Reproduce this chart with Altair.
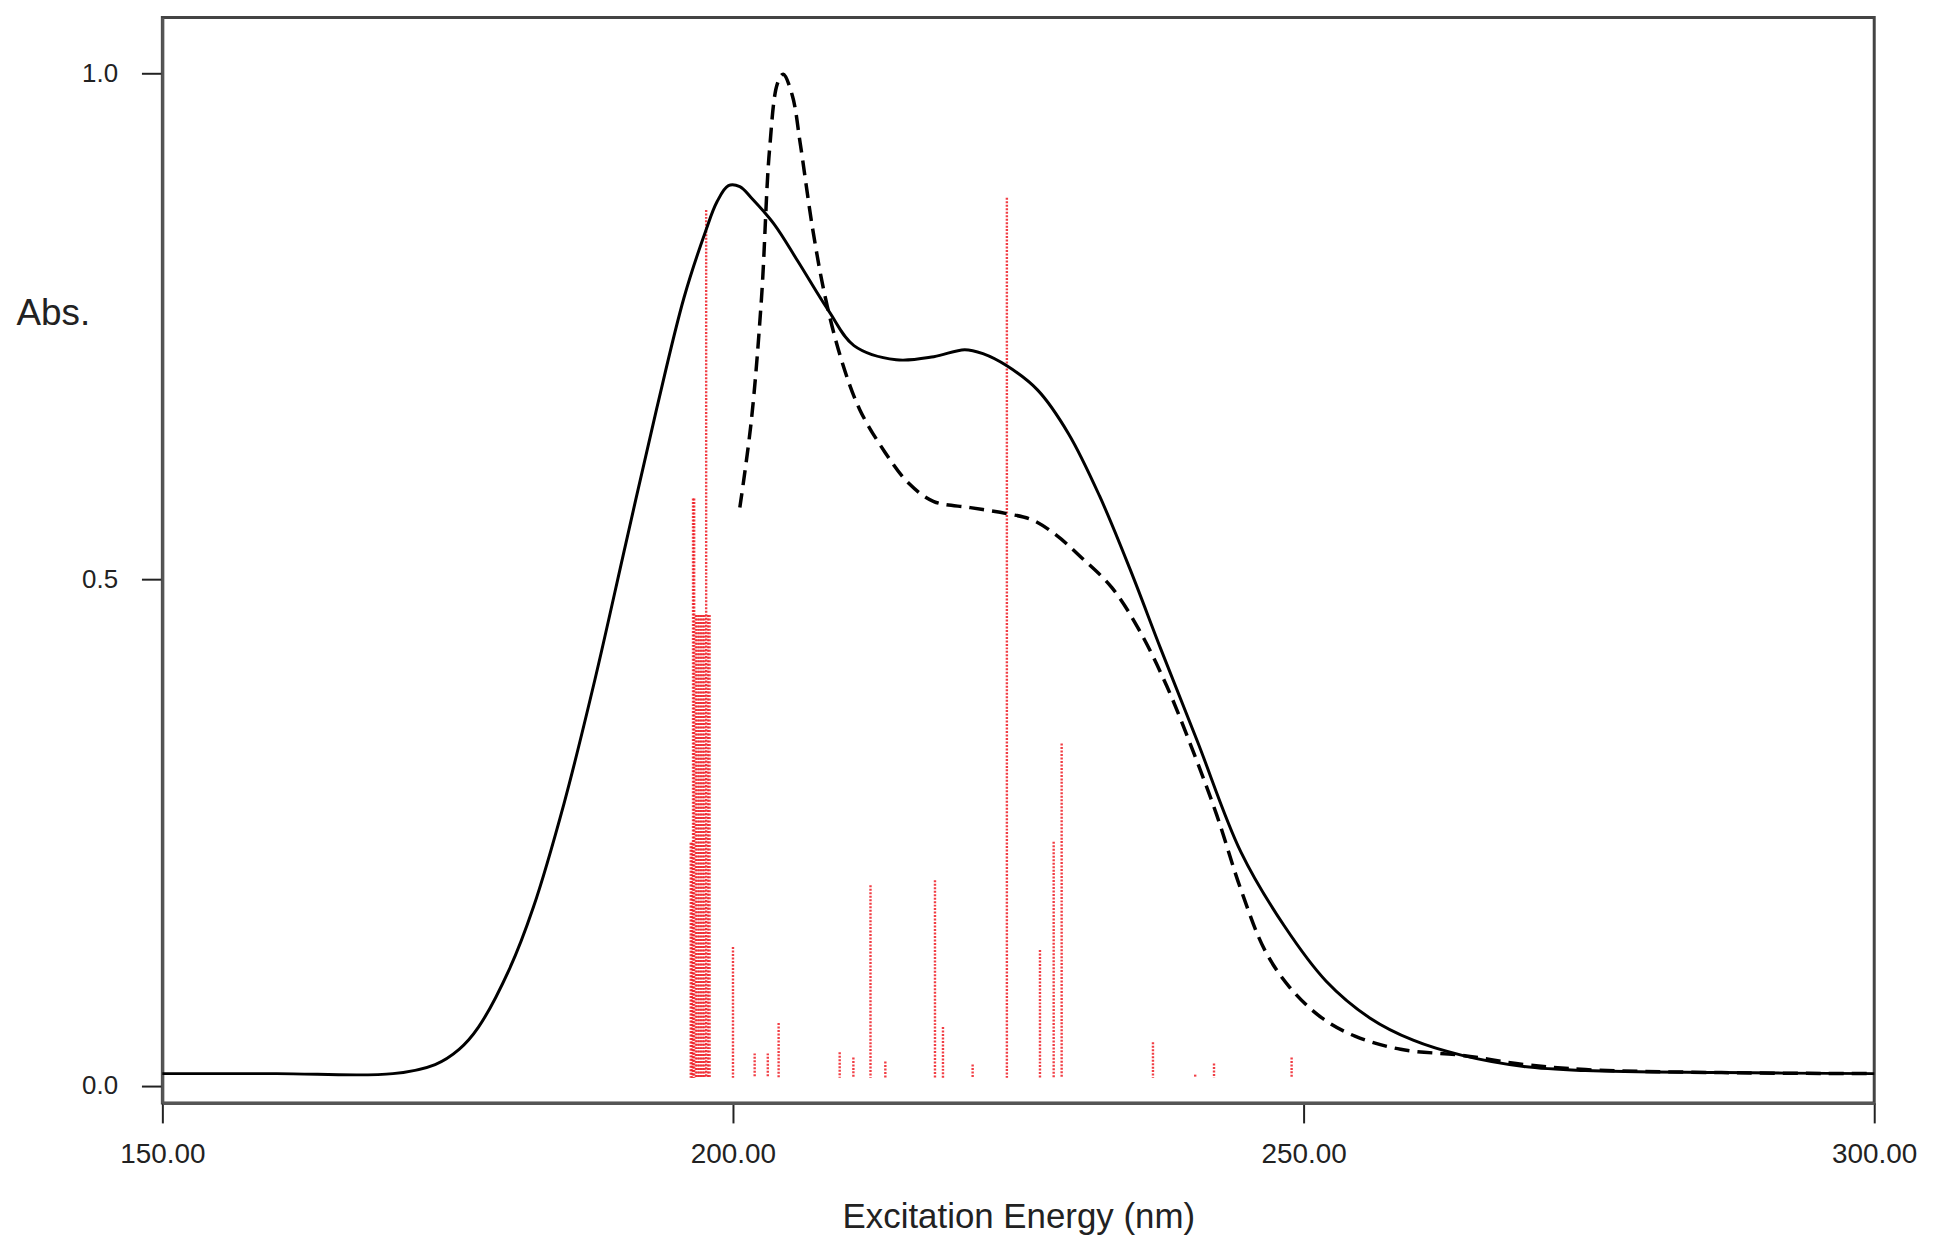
import altair as alt
import pandas as pd

# Solid spectrum
solid_x = [150, 160, 170.2, 173.9, 176.0, 177.7, 180.4, 182.5, 185.2, 187.9, 190.6, 193.3, 195.7,
           197.6, 198.6, 199.6, 200.6, 201.6, 203.6, 205.7, 208.4, 210.6, 214.3, 217.6, 220.3, 221.9,
           224.0, 226.7, 229.4, 232.1, 234.8, 237.5, 240.7, 244.5, 248.3, 252.0, 255.8, 259.6,
           263.9, 269.3, 274.7, 286.6, 300]
solid_y = [0.012, 0.012, 0.012, 0.021, 0.036, 0.058, 0.115, 0.176, 0.279, 0.401, 0.535, 0.668, 0.778,
           0.844, 0.873, 0.889, 0.888, 0.877, 0.851, 0.814, 0.765, 0.731, 0.717, 0.720, 0.727, 0.723,
           0.711, 0.687, 0.644, 0.583, 0.510, 0.431, 0.340, 0.231, 0.158, 0.103, 0.067, 0.045,
           0.030, 0.019, 0.015, 0.013, 0.012]

# Dashed spectrum
dashed_x = [200.6, 201.6, 202.5, 203.2, 203.9, 204.4, 205.2, 205.9, 207.0, 208.1, 209.5, 211.1,
            213.3, 215.4, 217.6, 220.8, 224.0, 226.2, 228.3, 230.5, 233.2, 235.6, 238.0, 240.4,
            242.4, 244.5, 246.6, 248.8, 251.6, 254.5, 258.5, 263.9, 269.3, 274.7, 286.6, 300]
dashed_y = [0.571, 0.656, 0.778, 0.924, 0.990, 0.999, 0.978, 0.930, 0.845, 0.778, 0.717, 0.668,
            0.626, 0.595, 0.577, 0.571, 0.565, 0.559, 0.544, 0.522, 0.492, 0.450, 0.395, 0.328,
            0.267, 0.194, 0.134, 0.097, 0.067, 0.049, 0.036, 0.030, 0.021, 0.016, 0.013, 0.012]

# Oscillator-strength sticks
stick_x = [196.3, 196.4, 196.5, 196.6, 196.75, 196.9, 197.05, 197.2, 197.35, 197.5, 197.65,
           197.8, 197.95, 200.0, 201.9, 203.05, 204.0, 205.85, 209.35, 210.55, 212.05, 213.35,
           217.7, 218.4, 221.0, 224.0, 226.9, 228.1, 228.8, 236.8, 240.5, 242.15, 248.95]
stick_y = [0.24, 0.24, 0.58, 0.58, 0.465, 0.465, 0.465, 0.465, 0.465, 0.465, 0.865,
           0.465, 0.465, 0.137, 0.032, 0.032, 0.062, 0.008, 0.033, 0.028, 0.198, 0.024,
           0.203, 0.058, 0.021, 0.877, 0.134, 0.241, 0.338, 0.043, 0.011, 0.022, 0.028]

x_ticks = [150, 200, 250, 300]
y_ticks = [0.0, 0.5, 1.0]

solid_df = pd.DataFrame({"x": solid_x, "y": solid_y})
dashed_df = pd.DataFrame({"x": dashed_x, "y": dashed_y})
stick_df = pd.DataFrame({"x": stick_x, "y": stick_y})

FONT = "Liberation Sans"

xscale = alt.Scale(domain=[150, 300], nice=False, zero=False)
yscale = alt.Scale(domain=[-0.017, 1.055], nice=False, zero=False)

xaxis = alt.Axis(values=x_ticks, format=".2f", title="Excitation Energy (nm)",
                 tickSize=20, tickWidth=2, tickColor="#222", labelPadding=18,
                 labelFontSize=28, labelFont=FONT, labelColor="#222", labelFlush=False,
                 labelAlign="center",
                 titleFont=FONT, titleFontSize=35, titleFontWeight="normal", titleColor="#222",
                 titleY=125, titleBaseline="alphabetic",
                 domain=True, domainColor="#555", domainWidth=3, grid=False)
yaxis = alt.Axis(values=y_ticks, format=".1f", title="Abs.",
                 tickSize=21, tickWidth=2, tickColor="#222", labelPadding=24,
                 labelFontSize=26, labelFont=FONT, labelColor="#222", labelFlush=False,
                 titleFont=FONT, titleFontSize=37, titleFontWeight="normal", titleColor="#222",
                 titleAngle=0, titleAlign="left", titleBaseline="alphabetic",
                 titleX=-147, titleY=308,
                 domain=True, domainColor="#555", domainWidth=3, grid=False)

sticks = alt.Chart(stick_df).mark_rule(
    color="#ee1c25", strokeWidth=2.4, strokeDash=[2, 1.5], opacity=0.85
).encode(
    x=alt.X("x:Q", scale=xscale, axis=xaxis),
    y=alt.Y("y:Q", scale=yscale, axis=yaxis),
    y2=alt.datum(0.008),
)

solid = alt.Chart(solid_df).mark_line(
    color="black", strokeWidth=3, interpolate="catmull-rom"
).encode(
    x=alt.X("x:Q", scale=xscale),
    y=alt.Y("y:Q", scale=yscale),
)

dashed = alt.Chart(dashed_df).mark_line(
    color="black", strokeWidth=3.5, strokeDash=[15, 8], interpolate="catmull-rom"
).encode(
    x=alt.X("x:Q", scale=xscale),
    y=alt.Y("y:Q", scale=yscale),
)

chart = alt.layer(sticks, solid, dashed).properties(
    width=1719,
    height=1090,
    background="white",
    autosize=alt.AutoSizeParams(type="none"),
    padding={"left": 155, "top": 7, "right": 54, "bottom": 130},
).configure_view(
    stroke="#444", strokeWidth=3
)

chart.save("out.html", embed_options={"renderer": "svg", "actions": False})
